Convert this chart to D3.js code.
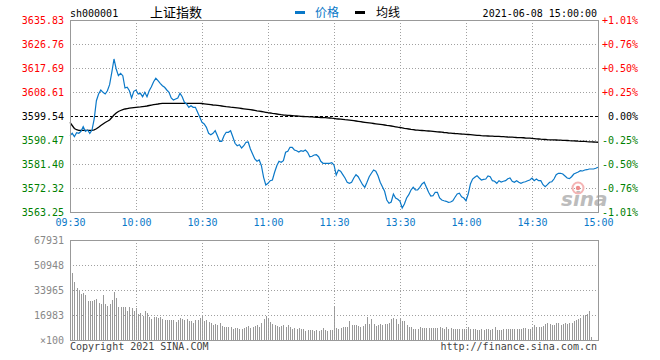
<!DOCTYPE html>
<html><head><meta charset="utf-8">
<script src="https://cdn.jsdelivr.net/npm/d3@7"></script>
<style>body{margin:0;background:#fff} svg{display:block}</style>
</head><body><svg id="c" width="660" height="360"></svg>
<script>
const code = "sh000001";
const title = "上证指数";
const legendNames = ["价格", "均线"];
const stamp = "2021-06-08 15:00:00";
const prevClose = 3599.54;
const priceTicks = [3635.83, 3626.76, 3617.69, 3608.61, 3599.54, 3590.47, 3581.40, 3572.32, 3563.25];
const pctTicks = ["+1.01%", "+0.76%", "+0.50%", "+0.25%", "0.00%", "-0.25%", "-0.50%", "-0.76%", "-1.01%"];
const timeTickIdx = [0, 30, 60, 90, 120, 150, 180, 210, 240];
const timeLabels = ["09:30", "10:00", "10:30", "11:00", "11:30", "13:30", "14:00", "14:30", "15:00"];
const volTickVals = [67931, 50948, 33965, 16983, 0];
const volTickLabels = ["67931", "50948", "33965", "16983", "\u00d7100"];

const price = [
3592.09,3593.00,3591.72,3593.23,3593.00,3593.76,3595.50,3593.76,3594.25,3593.00,
3594.25,3598.41,3605.32,3607.86,3609.37,3608.50,3607.86,3609.10,3611.37,3616.06,
3621.09,3617.31,3614.77,3615.68,3614.77,3610.12,3610.39,3609.10,3606.34,3608.88,
3609.37,3607.86,3608.12,3606.84,3608.50,3606.84,3609.10,3610.62,3612.51,3613.79,
3612.88,3611.90,3610.99,3610.39,3609.37,3608.50,3606.34,3605.59,3605.97,3606.34,
3608.12,3606.84,3604.72,3604.08,3602.83,3603.43,3602.83,3602.83,3600.94,3599.05,
3597.16,3596.52,3595.27,3593.00,3592.47,3593.00,3593.98,3592.09,3589.98,3589.98,
3592.09,3593.38,3593.38,3593.98,3591.72,3589.22,3588.31,3588.69,3587.44,3588.31,
3589.60,3589.71,3587.07,3585.18,3583.29,3582.42,3582.91,3580.75,3576.37,3573.46,
3574.10,3575.08,3575.35,3578.26,3580.75,3582.42,3582.04,3582.64,3585.82,3586.20,
3587.71,3587.71,3586.69,3586.42,3585.93,3586.42,3586.20,3586.69,3585.82,3584.15,
3584.31,3584.80,3584.91,3584.15,3582.42,3581.66,3581.66,3581.66,3581.66,3581.89,
3581.02,3577.24,3579.13,3578.64,3577.35,3576.10,3574.48,3574.10,3574.48,3576.10,
3577.35,3576.59,3575.08,3573.57,3572.59,3574.48,3576.59,3577.88,3579.13,3578.64,
3576.97,3574.48,3572.81,3571.08,3567.79,3566.54,3567.03,3570.05,3568.54,3568.05,
3567.29,3564.76,3566.27,3568.54,3569.79,3571.57,3572.59,3571.57,3571.57,3572.59,
3573.83,3574.48,3572.59,3570.70,3569.30,3569.41,3570.70,3570.70,3568.54,3567.79,
3567.52,3567.29,3566.92,3567.03,3567.52,3568.81,3570.05,3570.32,3569.03,3568.54,
3567.52,3570.05,3573.83,3575.72,3576.37,3576.97,3576.10,3575.35,3575.61,3575.72,
3576.86,3576.59,3575.08,3574.86,3574.10,3575.08,3574.59,3574.86,3575.08,3575.84,
3576.10,3574.86,3574.48,3575.08,3574.48,3574.10,3574.48,3574.70,3575.08,3575.35,
3576.10,3575.08,3575.72,3575.08,3575.08,3573.57,3572.81,3573.57,3574.48,3574.70,
3575.72,3577.35,3577.88,3577.88,3577.61,3576.86,3576.10,3575.84,3576.59,3577.61,
3577.99,3578.37,3578.86,3578.75,3579.13,3579.24,3579.50,3579.50,3579.50,3579.77,3580.15
];

const avg = [
3597.09,3595.95,3594.82,3594.36,3594.14,3594.14,3594.14,3594.14,3594.14,3594.14,
3594.14,3594.33,3594.70,3595.27,3595.95,3596.52,3597.09,3597.54,3598.03,3598.98,
3599.92,3600.68,3601.24,3601.62,3601.96,3602.19,3602.34,3602.49,3602.60,3602.72,
3602.83,3602.91,3602.98,3603.10,3603.21,3603.32,3603.51,3603.66,3603.81,3603.96,
3604.08,3604.23,3604.34,3604.34,3604.34,3604.34,3604.34,3604.34,3604.34,3604.34,
3604.34,3604.34,3604.34,3604.34,3604.34,3604.34,3604.34,3604.34,3604.34,3604.34,
3604.27,3604.15,3604.04,3603.93,3603.81,3603.70,3603.62,3603.55,3603.43,3603.32,
3603.21,3603.10,3603.02,3602.91,3602.83,3602.72,3602.60,3602.49,3602.38,3602.27,
3602.15,3602.04,3601.92,3601.81,3601.66,3601.51,3601.39,3601.24,3601.09,3600.94,
3600.79,3600.68,3600.53,3600.41,3600.30,3600.19,3600.04,3599.92,3599.85,3599.77,
3599.73,3599.66,3599.58,3599.54,3599.47,3599.39,3599.36,3599.32,3599.28,3599.24,
3599.20,3599.13,3599.05,3599.02,3598.98,3598.94,3598.90,3598.83,3598.79,3598.71,
3598.68,3598.49,3598.41,3598.33,3598.26,3598.14,3598.07,3597.99,3597.88,3597.76,
3597.65,3597.54,3597.42,3597.27,3597.16,3597.05,3596.93,3596.82,3596.71,3596.59,
3596.48,3596.37,3596.25,3596.14,3595.99,3595.87,3595.76,3595.61,3595.46,3595.31,
3595.20,3595.05,3594.90,3594.78,3594.63,3594.48,3594.36,3594.25,3594.17,3594.10,
3594.06,3593.99,3593.91,3593.87,3593.80,3593.72,3593.65,3593.57,3593.50,3593.42,
3593.31,3593.23,3593.12,3593.08,3593.00,3592.93,3592.89,3592.81,3592.74,3592.70,
3592.63,3592.55,3592.48,3592.40,3592.33,3592.25,3592.18,3592.10,3592.06,3592.02,
3591.98,3591.95,3591.91,3591.87,3591.87,3591.83,3591.76,3591.72,3591.68,3591.61,
3591.57,3591.53,3591.49,3591.42,3591.38,3591.34,3591.31,3591.23,3591.19,3591.15,
3591.08,3591.00,3590.93,3590.85,3590.78,3590.74,3590.66,3590.59,3590.55,3590.55,
3590.51,3590.47,3590.43,3590.40,3590.36,3590.32,3590.28,3590.21,3590.17,3590.13,
3590.09,3590.02,3589.98,3589.94,3589.91,3589.83,3589.79,3589.76,3589.72,3589.64,3589.61
];

const volume = [
67931,45514,39400,35324,33762,31248,31928,30365,26493,26493,
26493,27376,27852,25134,24455,30569,24455,22893,24455,26969,
32607,28531,22417,22417,22417,22417,19700,22417,21534,19496,
21738,17662,18341,16303,19496,18138,15624,14469,15624,15420,
14945,15624,14266,13586,13586,13586,13586,13586,12228,13586,
14945,14266,13586,14266,12907,12907,11548,13586,13586,14945,
16983,12703,13586,12228,11345,9986,10869,9986,11345,9510,
8627,8627,9035,9035,7676,8152,8152,7676,7676,8152,
8627,9510,8152,9035,9510,10393,9035,11345,14062,16303,
14945,12228,10869,9986,9510,8627,9510,9986,9035,9986,
8627,7676,8152,7676,8152,7676,7246,6340,6793,6793,
7020,6340,6793,6340,7020,8152,7020,6340,6793,6793,
22417,7926,7472,8152,8627,8831,9035,13133,9986,9986,
10416,9510,8831,9510,10869,15420,10869,14062,10869,9736,
10416,11096,10416,10869,10869,11322,14492,14945,14492,10869,
14062,13133,12680,10190,9035,8831,7700,7700,7700,8831,
8152,8378,8152,8152,8152,7926,8152,8152,9035,8152,
7246,8627,7700,8152,7700,7246,7246,7700,7472,7700,
7246,8627,7700,7700,7700,7020,7020,7472,6793,7246,
7246,6793,7700,8627,6793,6793,6793,7246,7472,7700,
7700,7700,7700,7246,7700,7246,8152,8152,7700,7700,
9035,9963,9035,9035,9035,9510,11096,11322,10869,9963,
10416,11322,11322,10416,10869,11322,11096,11322,11322,12680,
13586,14062,14945,16756,16756,17889,19700,1811,0,0,0
];

const svg = d3.select("#c");
const L = 70, R = 598, T = 20, B = 212, VT = 240, VB = 340;
const mono = "'DejaVu Sans Mono', monospace";
const cjk = "'Noto Sans CJK SC', sans-serif";
const blue = "#0a78c8";
const gridC = "#a0a0a0";
const frameC = "#999";

const x = d3.scaleLinear().domain([0, 240]).range([L, R]);
const y = d3.scaleLinear().domain([3563.25, 3635.83]).range([B, T]);
const yv = d3.scaleLinear().domain([0, 67931]).range([VB, VT]);

// ---- header ----
svg.append("text").attr("x", 70).attr("y", 16.5).attr("font-family", mono).attr("font-size", 10).attr("fill", "#000").text(code);
svg.append("text").attr("x", 150).attr("y", 17).attr("font-family", cjk).attr("font-size", 13).attr("fill", "#000").text(title);
svg.append("rect").attr("x", 295).attr("y", 11).attr("width", 10).attr("height", 3).attr("fill", blue);
svg.append("text").attr("x", 315).attr("y", 17).attr("font-family", cjk).attr("font-size", 12).attr("fill", blue).text(legendNames[0]);
svg.append("rect").attr("x", 355).attr("y", 11).attr("width", 10).attr("height", 3).attr("fill", "#000");
svg.append("text").attr("x", 376).attr("y", 17).attr("font-family", cjk).attr("font-size", 12).attr("fill", "#000").text(legendNames[1]);
svg.append("text").attr("x", 597).attr("y", 16.5).attr("text-anchor", "end").attr("font-family", mono).attr("font-size", 10).attr("fill", "#000").text(stamp);

// ---- main grid ----
const g = svg.append("g").attr("shape-rendering", "crispEdges");
g.selectAll("line.hg").data(priceTicks.filter((d, i) => i > 0 && i < priceTicks.length - 1 && d !== prevClose))
  .enter().append("line")
  .attr("x1", L).attr("x2", R)
  .attr("y1", d => Math.round(y(d)) + 0.5).attr("y2", d => Math.round(y(d)) + 0.5)
  .attr("stroke", gridC).attr("stroke-dasharray", "1,2");
g.selectAll("line.vg").data(timeTickIdx.slice(1, -1)).enter().append("line")
  .attr("x1", d => Math.round(x(d)) + 0.5).attr("x2", d => Math.round(x(d)) + 0.5)
  .attr("y1", T).attr("y2", B)
  .attr("stroke", gridC).attr("stroke-dasharray", "1,2");

// sina watermark
const wm = svg.append("g");
wm.append("text").attr("x", 561).attr("y", 206).attr("font-family", "'DejaVu Sans', sans-serif")
  .attr("font-style", "italic").attr("font-weight", "bold").attr("font-size", 20).attr("fill", "#bcbcbc").text("sina");
wm.append("circle").attr("cx", 578).attr("cy", 188).attr("r", 5.5).attr("fill", "none").attr("stroke", "#f4b4b4").attr("stroke-width", 2);
wm.append("circle").attr("cx", 578).attr("cy", 188).attr("r", 2.2).attr("fill", "#ee8c8c");

// prev close line
svg.append("line").attr("x1", L).attr("x2", R)
  .attr("y1", Math.round(y(prevClose)) + 0.5).attr("y2", Math.round(y(prevClose)) + 0.5)
  .attr("stroke", "#000").attr("stroke-dasharray", "3,2").attr("shape-rendering", "crispEdges");

// ---- lines ----
const line = d3.line().x((d, i) => x(i)).y(d => y(d));
svg.append("path").datum(avg).attr("d", line).attr("fill", "none").attr("stroke", "#000").attr("stroke-width", 1.3);
svg.append("path").datum(price).attr("d", line).attr("fill", "none").attr("stroke", blue).attr("stroke-width", 1.2);

// frame
svg.append("rect").attr("x", L + 0.5).attr("y", T + 0.5).attr("width", R - L).attr("height", B - T)
  .attr("fill", "none").attr("stroke", frameC).attr("shape-rendering", "crispEdges");

// ---- axes ----
const colorOf = d => d > prevClose ? "#ff0000" : (d < prevClose ? "#008000" : "#000");
const ax = svg.append("g").attr("transform", `translate(${L},0)`)
  .call(d3.axisLeft(y).tickValues(priceTicks).tickSize(0).tickPadding(6).tickFormat(d3.format(".2f")));
ax.select(".domain").remove();
ax.attr("font-family", mono).attr("font-size", 10);
ax.selectAll("text").attr("fill", d => colorOf(d));

const axr = svg.append("g").attr("transform", `translate(${R},0)`)
  .call(d3.axisRight(y).tickValues(priceTicks).tickSize(0).tickPadding(40).tickFormat((d, i) => pctTicks[i]));
axr.select(".domain").remove();
axr.attr("font-family", mono).attr("font-size", 10);
axr.selectAll("text").attr("text-anchor", "end").attr("fill", d => colorOf(d));

const axb = svg.append("g").attr("transform", `translate(0,${B})`)
  .call(d3.axisBottom(x).tickValues(timeTickIdx).tickSize(0).tickPadding(7).tickFormat((d, i) => timeLabels[i]));
axb.select(".domain").remove();
axb.attr("font-family", mono).attr("font-size", 10);
axb.selectAll("text").attr("fill", blue);

// ---- volume panel ----
const vg = svg.append("g").attr("shape-rendering", "crispEdges");
vg.selectAll("rect.bar").data(volume).enter().append("rect")
  .attr("x", (d, i) => Math.round(x(i)))
  .attr("y", d => yv(d))
  .attr("width", 1)
  .attr("height", d => VB - yv(d))
  .attr("fill", "#999");
vg.selectAll("line.vh").data(volTickVals.slice(1, -1)).enter().append("line")
  .attr("x1", L).attr("x2", R)
  .attr("y1", d => Math.round(yv(d)) + 0.5).attr("y2", d => Math.round(yv(d)) + 0.5)
  .attr("stroke", gridC).attr("stroke-dasharray", "1,2");
vg.selectAll("line.vv").data(timeTickIdx.slice(1, -1)).enter().append("line")
  .attr("x1", d => Math.round(x(d)) + 0.5).attr("x2", d => Math.round(x(d)) + 0.5)
  .attr("y1", VT).attr("y2", VB)
  .attr("stroke", gridC).attr("stroke-dasharray", "1,2");
vg.append("rect").attr("x", L + 0.5).attr("y", VT + 0.5).attr("width", R - L).attr("height", VB - VT)
  .attr("fill", "none").attr("stroke", frameC);

const axv = svg.append("g").attr("transform", `translate(${L},0)`)
  .call(d3.axisLeft(yv).tickValues(volTickVals).tickSize(0).tickPadding(6).tickFormat((d, i) => volTickLabels[i]));
axv.select(".domain").remove();
axv.attr("font-family", mono).attr("font-size", 10);
axv.selectAll("text").attr("fill", "#888");

// footer
svg.append("text").attr("x", 70).attr("y", 350).attr("font-family", mono).attr("font-size", 10).attr("fill", "#444").text("Copyright 2021 SINA.COM");
svg.append("text").attr("x", 597).attr("y", 350).attr("text-anchor", "end").attr("font-family", mono).attr("font-size", 10).attr("fill", "#444").text("http://finance.sina.com.cn");
</script></body></html>
